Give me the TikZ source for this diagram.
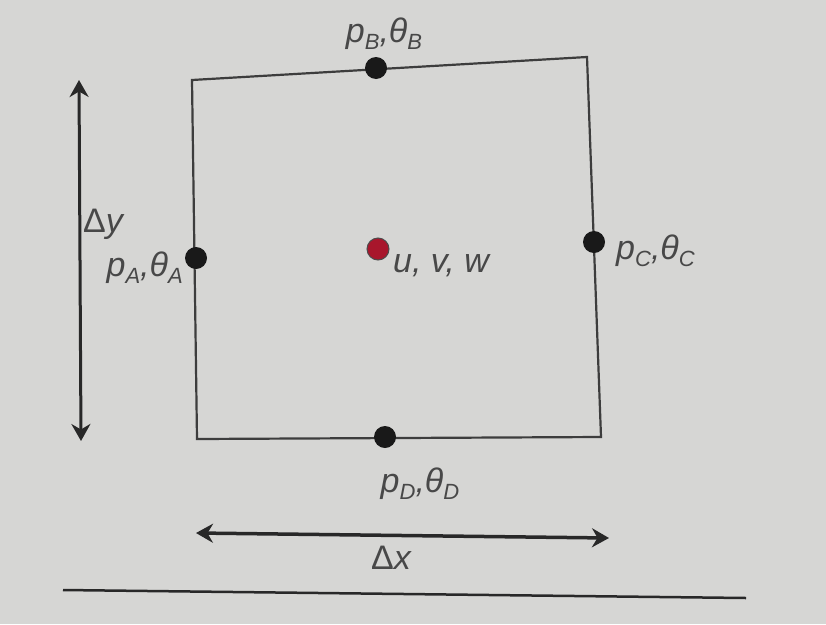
\documentclass[tikz,border=0pt]{standalone}
\usepackage{fontspec}
\setmainfont{Liberation Sans}
\usetikzlibrary{arrows.meta}
\definecolor{bgc}{RGB}{214,214,212}
\definecolor{ink}{RGB}{40,40,40}
\definecolor{dotred}{RGB}{168,22,44}
\newcommand{\mysub}[1]{\raisebox{-0.35ex}{\fontsize{22}{24}\selectfont #1}}
\tikzset{
  lbl/.style={text=ink!85, font=\fontsize{34}{36}\selectfont\itshape, inner sep=0pt},
  edge/.style={draw=ink!90, line width=2.2pt},
  pdot/.style={circle, fill=black!90, minimum size=22pt, inner sep=0pt},
  rdot/.style={circle, fill=dotred, draw=black!70, line width=1pt, minimum size=22pt, inner sep=0pt},
  dimarrow/.style={draw=ink, line width=3.5pt, {Stealth[length=17pt,width=19pt]}-{Stealth[length=17pt,width=19pt]}}
}
\begin{document}
\begin{tikzpicture}[x=1pt,y=-1pt]
\fill[bgc] (0,0) rectangle (826,624);
\useasboundingbox (0,0) rectangle (826,624);
% corners
\coordinate (TL) at (192,80);
\coordinate (TR) at (587,57);
\coordinate (BR) at (601,437);
\coordinate (BL) at (197,439);
\draw[edge] (TL) -- (TR) -- (BR) -- (BL) -- cycle;
% dots
\node[pdot] (B) at (376,68) {};
\node[pdot] (A) at (196,258) {};
\node[pdot] (C) at (594,242) {};
\node[pdot] (D) at (385,437) {};
\node[rdot] (M) at (378,249) {};
% labels
\node[lbl] (lB) at (384,34) {p\mysub{B},θ\mysub{B}};
\node[lbl, anchor=east] (lA) at (183,268) {p\mysub{A},θ\mysub{A}};
\node[lbl, anchor=west] (lC) at (616,251) {p\mysub{C},θ\mysub{C}};
\node[lbl] (lD) at (420,484) {p\mysub{D},θ\mysub{D}};
\node[lbl, anchor=west] (lM) at (393,266) {u, v, w};
\node[lbl, anchor=west] (ly) at (83,224) {\upshape Δ\itshape y};
\node[lbl] (lx) at (391,558) {\upshape Δ\itshape x};
% dimension arrows
\coordinate (yt) at (79,80);
\coordinate (yb) at (81,441);
\draw[dimarrow, line width=3pt] (yt) -- (yb);
\coordinate (xl) at (196,533);
\coordinate (xr) at (609,538);
\draw[dimarrow] (xl) -- (xr);
% bottom rule
\coordinate (rl) at (63,590);
\coordinate (rr) at (746,598);
\draw[draw=ink, line width=2.5pt] (rl) -- (rr);
\end{tikzpicture}
\end{document}
